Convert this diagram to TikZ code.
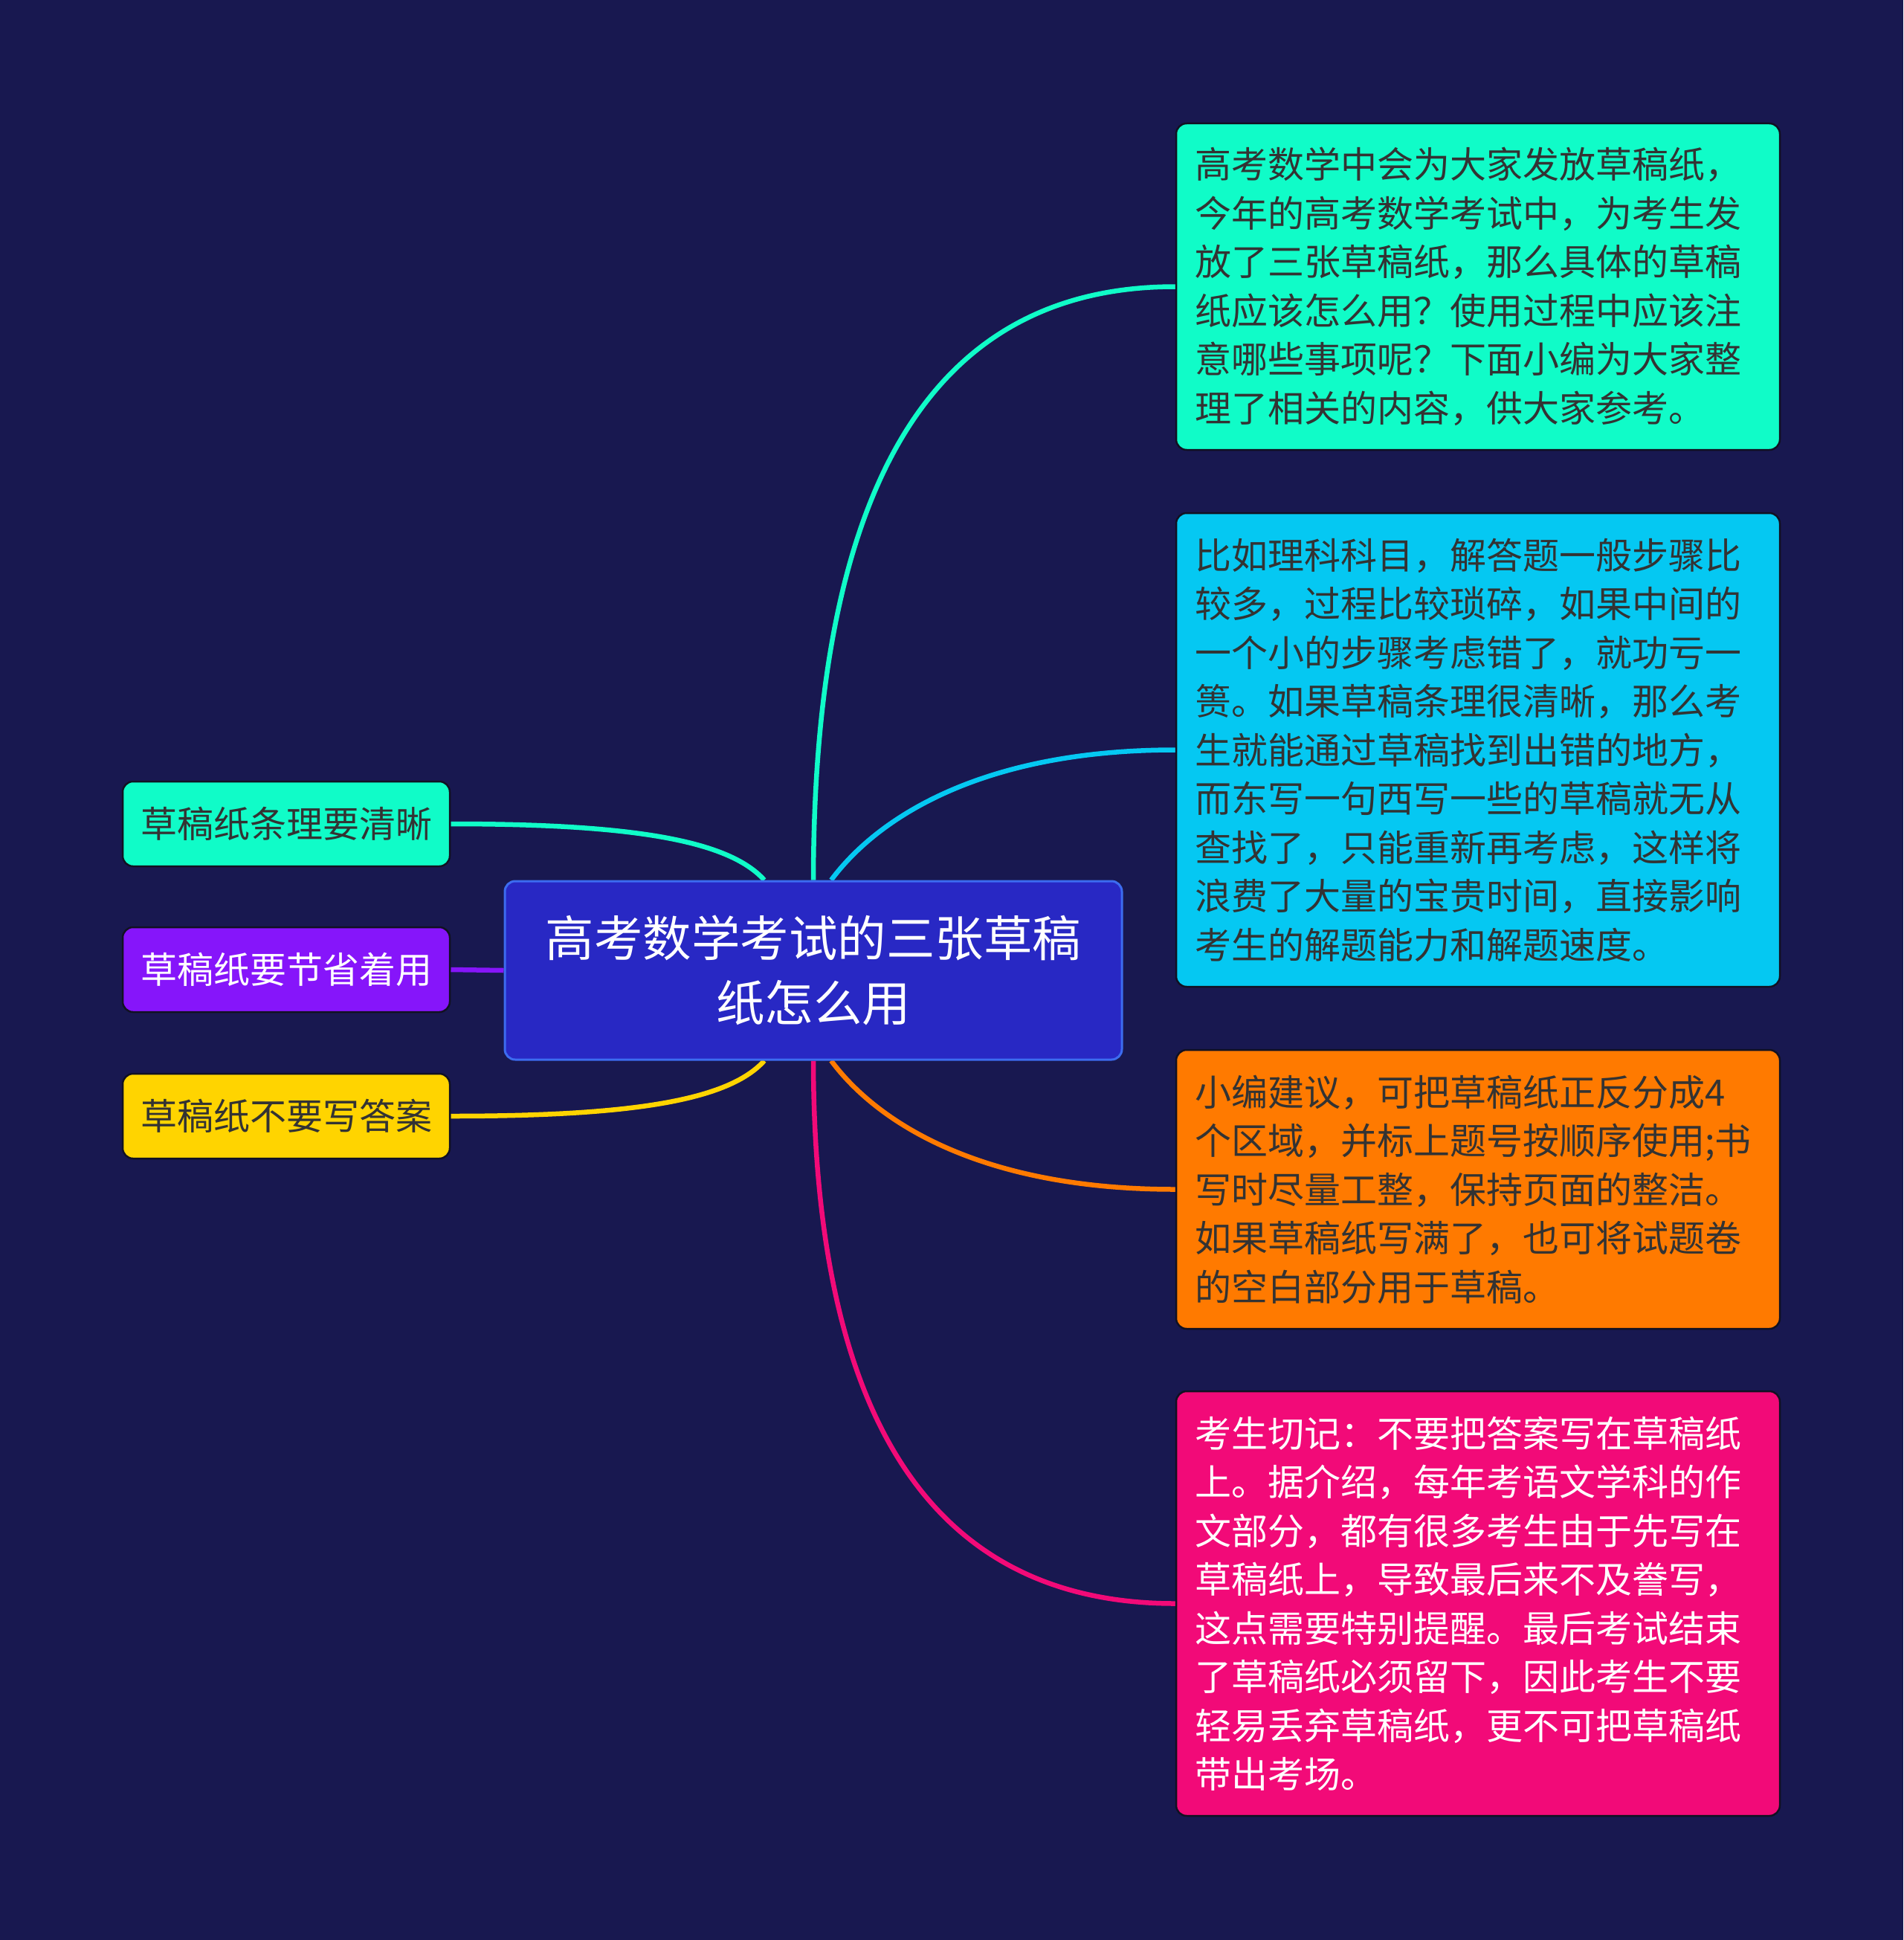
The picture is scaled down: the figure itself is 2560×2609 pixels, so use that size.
\documentclass[tikz,border=0pt]{standalone}
\usepackage{fontspec}
\newfontfamily\cjk{Noto Sans CJK SC}
\definecolor{bgc}{HTML}{181850}
\definecolor{cfill}{HTML}{2828C4}
\definecolor{cborder}{HTML}{3C6CF0}
\definecolor{aqua}{HTML}{10FCC8}
\definecolor{sky}{HTML}{05C8F2}
\definecolor{orng}{HTML}{FF7A00}
\definecolor{pnk}{HTML}{F20A78}
\definecolor{purp}{HTML}{8615FA}
\definecolor{yel}{HTML}{FFD400}
\definecolor{dtext}{HTML}{333333}
\definecolor{nborder}{HTML}{111122}
\pgfdeclarelayer{bg}
\pgfsetlayers{bg,main}
\tikzset{
  box/.style={draw=nborder, line width=2.5pt, rounded corners=14pt, inner ysep=0pt},
  rbox/.style={box, inner xsep=25pt, text width=762pt, align=left, minimum width=812pt,
    font=\cjk\fontsize{49}{65.5}\selectfont},
  lbox/.style={box, inner xsep=0pt, minimum width=440pt, minimum height=114pt, align=center,
    font=\cjk\fontsize{49}{65.5}\selectfont},
  centre/.style={draw=cborder, line width=3pt, fill=cfill, rounded corners=14pt, text=white,
    minimum width=830pt, minimum height=240pt, align=center, inner sep=0pt,
    font=\cjk\fontsize{65.5}{86.5}\selectfont},
  link/.style={line width=6.5pt}
}
\begin{document}
\begin{tikzpicture}[x=1pt,y=-1pt]
\begin{pgfonlayer}{bg}
\fill[bgc] (0,0) rectangle (2560,2609);
\end{pgfonlayer}
\useasboundingbox (0,0) rectangle (2560,2609);

\node[centre] (c) at (1094,1305) {高考数学考试的三张草稿\\纸怎么用};

\node[lbox, fill=aqua, text=dtext] (l1) at (385,1108) {草稿纸条理要清晰};
\node[lbox, fill=purp, text=white] (l2) at (385,1304) {草稿纸要节省着用};
\node[lbox, fill=yel, text=dtext] (l3) at (385,1501) {草稿纸不要写答案};

\node[rbox, fill=aqua, text=dtext, minimum height=439pt] (r1) at (1988,385.5) {高考数学中会为大家发放草稿纸，\\今年的高考数学考试中，为考生发\\放了三张草稿纸，那么具体的草稿\\纸应该怎么用？使用过程中应该注\\意哪些事项呢？下面小编为大家整\\理了相关的内容，供大家参考。};
\node[rbox, fill=sky, text=dtext, minimum height=637pt] (r2) at (1988,1008.5) {比如理科科目，解答题一般步骤比\\较多，过程比较琐碎，如果中间的\\一个小的步骤考虑错了，就功亏一\\篑。如果草稿条理很清晰，那么考\\生就能通过草稿找到出错的地方，\\而东写一句西写一些的草稿就无从\\查找了，只能重新再考虑，这样将\\浪费了大量的宝贵时间，直接影响\\考生的解题能力和解题速度。};
\node[rbox, fill=orng, text=dtext, minimum height=375pt] (r3) at (1988,1599.5) {小编建议，可把草稿纸正反分成4\\个区域，并标上题号按顺序使用;书\\写时尽量工整，保持页面的整洁。\\如果草稿纸写满了，也可将试题卷\\的空白部分用于草稿。};
\node[rbox, fill=pnk, text=white, minimum height=571pt] (r4) at (1988,2156.5) {考生切记：不要把答案写在草稿纸\\上。据介绍，每年考语文学科的作\\文部分，都有很多考生由于先写在\\草稿纸上，导致最后来不及誊写，\\这点需要特别提醒。最后考试结束\\了草稿纸必须留下，因此考生不要\\轻易丢弃草稿纸，更不可把草稿纸\\带出考场。};

\begin{pgfonlayer}{bg}
\draw[link, aqua] (c.north) .. controls (1095,650) and (1255,385.5) .. (r1.west);
\draw[link, sky] ([xshift=24pt]c.north) .. controls (1180,1100) and (1320,1008.5) .. (r2.west);
\draw[link, orng] ([xshift=24pt]c.south) .. controls (1180,1510) and (1320,1599.5) .. (r3.west);
\draw[link, pnk] (c.south) .. controls (1095,1910) and (1255,2156.5) .. (r4.west);
\draw[link, aqua] (l1.east) .. controls (850,1108) and (980,1130) .. ([xshift=-66pt]c.north);
\draw[link, purp] (l2.east) -- (c.west);
\draw[link, yel] (l3.east) .. controls (850,1501) and (980,1480) .. ([xshift=-66pt]c.south);
\end{pgfonlayer}
\end{tikzpicture}
\end{document}
